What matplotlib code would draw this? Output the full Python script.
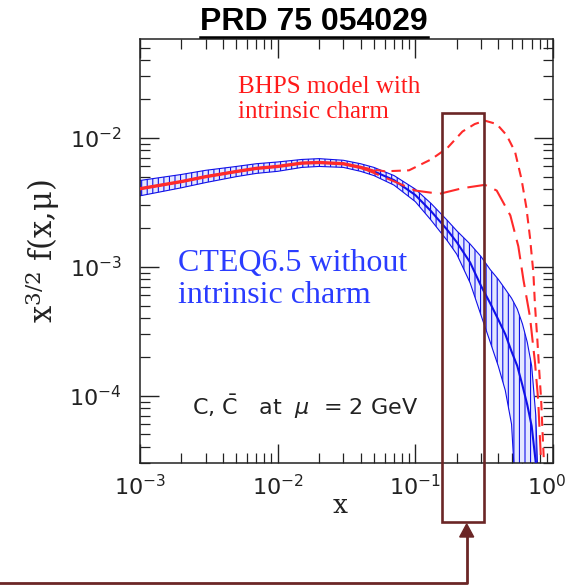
import matplotlib
matplotlib.use("Agg")
import matplotlib.pyplot as plt
from matplotlib.lines import Line2D
from matplotlib.patches import Rectangle, Polygon
from matplotlib.transforms import ScaledTranslation

# CTEQ6.5 band (no intrinsic charm), x^{3/2} c(x) at mu = 2 GeV
X_BAND = [0.001, 0.002, 0.003, 0.005, 0.007, 0.01, 0.015, 0.02, 0.03, 0.04,
          0.05, 0.07, 0.1, 0.13, 0.17, 0.2, 0.25, 0.3, 0.35, 0.4, 0.45, 0.5,
          0.55, 0.6, 0.65, 0.7, 0.75, 0.8]
CTEQ_CENTER = [0.00403, 0.00458, 0.0050, 0.00548, 0.0058, 0.0060, 0.00637,
               0.00644, 0.0063, 0.0059, 0.0055, 0.0047, 0.0036, 0.0027,
               0.00194, 0.00155, 0.00108, 0.00071, 0.00052, 0.00039, 0.0003,
               0.00022, 0.00017, 0.00012, 0.000085, 0.000058, 0.00003, 0.00001]
CTEQ_UPPER = [0.00467, 0.0052, 0.0056, 0.0060, 0.0063, 0.0065, 0.0068,
              0.0069, 0.0067, 0.0063, 0.0059, 0.0051, 0.0040, 0.0031, 0.0023,
              0.0019, 0.0015, 0.0012, 0.00095, 0.0008, 0.00067, 0.00057,
              0.00047, 0.00036, 0.00026, 0.00017, 0.00007, 0.00001]
CTEQ_LOWER = [0.00355, 0.0041, 0.0045, 0.0050, 0.0053, 0.0055, 0.0059,
              0.0060, 0.0059, 0.0055, 0.0051, 0.0043, 0.0032, 0.0023, 0.0016,
              0.00125, 0.00075, 0.00042, 0.00026, 0.00017, 0.00011, 0.00006,
              0.00001, 0.00001, 0.00001, 0.00001, 0.00001, 0.00001]

# BHPS intrinsic charm curves
X_BHPS_HI = [0.04, 0.06, 0.09, 0.13, 0.17, 0.22, 0.27, 0.32, 0.39, 0.46,
             0.53, 0.59, 0.64, 0.68, 0.72, 0.74, 0.77, 0.79, 0.82, 0.84,
             0.86, 0.88]
Y_BHPS_HI = [0.0059, 0.0055, 0.0056, 0.0068, 0.0083, 0.0112, 0.0128, 0.0136,
             0.0128, 0.0105, 0.0078, 0.0048, 0.0029, 0.0017, 0.0009, 0.0005,
             0.00027, 0.00017, 0.000093, 0.000051, 0.00003, 0.00001]
X_BHPS_LO = [0.04, 0.07, 0.1, 0.15, 0.22, 0.32, 0.39, 0.49, 0.56, 0.61,
             0.68, 0.74, 0.78, 0.82, 0.84]
Y_BHPS_LO = [0.0059, 0.0046, 0.0039, 0.00368, 0.00407, 0.00432, 0.0039,
             0.0025, 0.00144, 0.00079, 0.00041, 0.00018, 0.000093, 0.00003,
             0.00001]

RED_UNTIL = 0.05   # where the two models are still the same

BLUE = "#1010e8"
RED = "#ff2a2a"
BROWN = "#6b2626"

plt.rcParams["hatch.linewidth"] = 0.8
plt.rcParams["hatch.color"] = BLUE

fig = plt.figure(figsize=(5.68, 5.85), dpi=100)
ax = fig.add_axes([140 / 568, 1 - 463 / 585, 413 / 568, 424 / 585])

ax.fill_between(X_BAND, CTEQ_LOWER, CTEQ_UPPER, facecolor="#e4e8ff",
                edgecolor=BLUE, hatch="|||", linewidth=0.8, zorder=2)
ax.plot(X_BAND, CTEQ_CENTER, color=BLUE, lw=1.5, zorder=3)

x_red = [x for x in X_BAND if x <= RED_UNTIL]
y_red = CTEQ_CENTER[:len(x_red)]
ax.plot(x_red, y_red, color=RED, lw=2.4, zorder=4)
ax.plot(X_BHPS_HI, Y_BHPS_HI, color=RED, lw=1.5, ls=(0, (4.5, 3)), zorder=4)
ax.plot(X_BHPS_LO, Y_BHPS_LO, color=RED, lw=1.5, ls=(0, (9.5, 4)), zorder=4)

ax.set_xscale("log")
ax.set_yscale("log")
ax.set_xlim(1e-3, 1.0)
ax.set_ylim(3.0e-5, 0.0585)

ax.tick_params(which="both", direction="in", top=True, right=True,
               labelsize=16, color="#222222", labelcolor="#222222")
ax.tick_params(which="major", length=14, width=1.0)
ax.tick_params(which="minor", length=7, width=0.9)
ax.tick_params(axis="x", pad=8)
ax.tick_params(axis="y", pad=13)
ax.set_xticks([1e-3, 1e-2, 1e-1, 1e0])
ax.set_yticks([1e-4, 1e-3, 1e-2])
for s in ax.spines.values():
    s.set_linewidth(1.1)
    s.set_color("#222222")

# last x tick label sits a little to the left, like in the original
last = ax.xaxis.get_major_ticks()[-1].label1
last.set_transform(last.get_transform()
                   + ScaledTranslation(-6 / 100, 0, fig.dpi_scale_trans))

ax.set_xlabel("x", family="DejaVu Serif", fontsize=19, color="#222222")
ax.xaxis.set_label_coords(0.485, -0.07)
ax.set_ylabel("x$^{\\mathregular{3/2}}$ f(x,μ)", family="DejaVu Serif",
              fontsize=22, color="#222222")
ax.yaxis.set_label_coords(-0.19, 0.5)

ax.text(0.237, 0.912, "BHPS model with\nintrinsic charm", color="#ff1a1a",
        family="Liberation Serif", fontsize=18, va="top", ha="left",
        linespacing=1.15, transform=ax.transAxes)
ax.text(0.092, 0.505, "CTEQ6.5 without\nintrinsic charm", color="#2a3cff",
        family="Liberation Serif", fontsize=23, va="top", ha="left",
        linespacing=1.12, transform=ax.transAxes)
ax.text(0.126, 0.113, "C, $\\mathregular{\\bar{C}}$   at  $\\mu$  = 2 GeV",
        color="#222222", fontsize=16, va="baseline", ha="left",
        transform=ax.transAxes)

# title with underline
fig.text(314 / 568, 1 - 30 / 585, "PRD 75 054029", fontsize=23,
         family="Liberation Sans", weight="bold", ha="center",
         va="baseline")
fig.add_artist(Line2D([200 / 568, 428 / 568], [1 - 37 / 585, 1 - 37 / 585],
                      color="black", lw=1.8))

# highlight box and arrow
fig.add_artist(Rectangle((441.7 / 568, 1 - 521.7 / 585), 42.3 / 568,
                         408.7 / 585, fill=False, edgecolor=BROWN, lw=1.9,
                         zorder=5))
fig.add_artist(Line2D([0, 466.7 / 568, 466.7 / 568],
                      [1 - 583 / 585, 1 - 583 / 585, 1 - 536 / 585],
                      color=BROWN, lw=2.0, zorder=5))
fig.add_artist(Polygon([(459.7 / 568, 1 - 537 / 585),
                        (473.7 / 568, 1 - 537 / 585),
                        (466.7 / 568, 1 - 524 / 585)],
                       closed=True, color=BROWN, zorder=5))

fig.savefig("out.png", dpi=100)
